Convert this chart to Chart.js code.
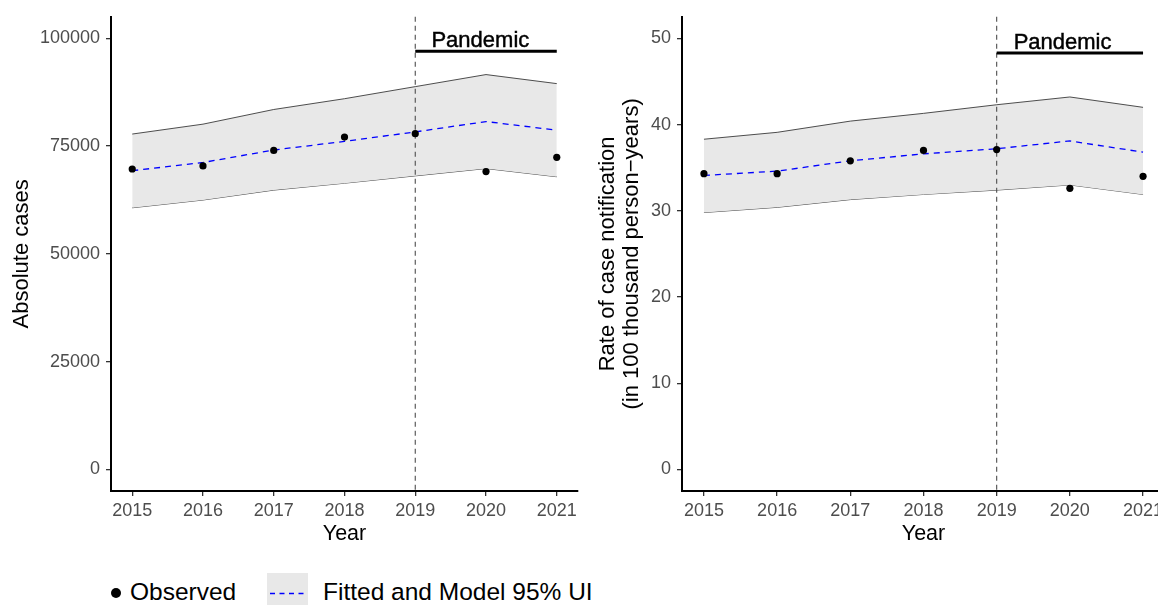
<!DOCTYPE html>
<html>
<head>
<meta charset="utf-8">
<script src="https://cdn.jsdelivr.net/npm/chart.js@4"></script>
<style>
  html, body { margin:0; padding:0; background:#fff; width:1158px; height:605px; overflow:hidden; position:relative; font-family:"Liberation Sans", Arial, Helvetica, sans-serif; }
  #w1 { position:absolute; left:0; top:0; width:582px; height:560px; }
  #w2 { position:absolute; left:580px; top:0; width:589px; height:560px; }
  .dot { position:absolute; left:111px; top:588px; width:10px; height:10px; border-radius:50%; background:#000; }
  .lab { position:absolute; top:578px; white-space:nowrap; font-size:24.5px; line-height:28px; color:#000; }
  .key { position:absolute; left:267px; top:573px; width:41px; height:40px; background:#e8e8e8; }
  .key svg { position:absolute; left:0; top:0; }
</style>
</head>
<body>
<div id="w1"><canvas id="c1"></canvas></div>
<div id="w2"><canvas id="c2"></canvas></div>
<div class="dot"></div>
<div class="lab" style="left:130px;">Observed</div>
<div class="key"><svg width="41" height="40"><line x1="3" y1="20.5" x2="39" y2="20.5" stroke="#0000ff" stroke-width="1.3" stroke-dasharray="5,4.5"/></svg></div>
<div class="lab" style="left:323px;">Fitted and Model 95% UI</div>
<script>
// ---- data ----
const years = [2015, 2016, 2017, 2018, 2019, 2020, 2021];

const absObserved = [69700, 70400, 74000, 77100, 77900, 69100, 72400];
const absFitted   = [69300, 71200, 74100, 76100, 78300, 80700, 78700];
const absLower    = [60700, 62500, 64800, 66400, 68100, 69800, 67900];
const absUpper    = [77800, 80100, 83500, 86000, 88800, 91600, 89500];
const absTicks    = [0, 25000, 50000, 75000, 100000];

const rateObserved = [34.3, 34.3, 35.8, 37.0, 37.1, 32.6, 34.0];
const rateFitted   = [34.1, 34.6, 35.8, 36.6, 37.2, 38.1, 36.8];
const rateLower    = [29.8, 30.4, 31.3, 31.9, 32.4, 33.0, 31.9];
const rateUpper    = [38.3, 39.1, 40.4, 41.3, 42.3, 43.2, 42.0];
const rateTicks    = [0, 10, 20, 30, 40, 50];

const pandemicStart = 2019;
const pandemicEnd = 2021;
const pandemicLabel = "Pandemic";
const absPandemic = { lineY: 97000, textX: 2019.92, textY: 99500 };
const ratePandemic = { lineY: 48.3, textX: 2019.9, textY: 49.5 };

const FONT = "'Liberation Sans', Arial, Helvetica, sans-serif";

function pts(ys) { return years.map((x, i) => ({ x: x, y: ys[i] })); }

const annotPlugin = {
  id: 'annot',
  afterDatasetDraw(chart, args, opts) {
    if (args.index !== 2) return;
    const { ctx, chartArea } = chart;
    const xs = chart.scales.x;
    const xv = xs.getPixelForValue(pandemicStart);
    ctx.save();
    ctx.strokeStyle = '#4d4d4d';
    ctx.lineWidth = 1.1;
    ctx.setLineDash([5, 4]);
    ctx.beginPath();
    ctx.moveTo(xv, chartArea.top);
    ctx.lineTo(xv, chartArea.bottom);
    ctx.stroke();
    ctx.restore();
  },
  afterDatasetsDraw(chart, args, opts) {
    const { ctx } = chart;
    const xs = chart.scales.x, ysc = chart.scales.y;
    const p = opts.p;
    ctx.save();
    ctx.strokeStyle = '#000';
    ctx.lineWidth = 3;
    ctx.setLineDash([]);
    ctx.beginPath();
    const yl = ysc.getPixelForValue(p.lineY);
    ctx.moveTo(xs.getPixelForValue(pandemicStart), yl);
    ctx.lineTo(xs.getPixelForValue(pandemicEnd), yl);
    ctx.stroke();
    ctx.fillStyle = '#000';
    ctx.font = "22px " + FONT;
    ctx.textAlign = 'center';
    ctx.textBaseline = 'middle';
    const tx = xs.getPixelForValue(p.textX), ty = ysc.getPixelForValue(p.textY);
    ctx.fillText(pandemicLabel, tx, ty);
    ctx.lineWidth = 0.45;
    ctx.strokeText(pandemicLabel, tx, ty);
    ctx.restore();
  }
};

function makeChart(id, obs, fit, lo, up, ticks, yMin, yMax, yTitle, yWidth, titlePad, pand, padRight) {
  return new Chart(document.getElementById(id), {
    type: 'line',
    data: {
      datasets: [
        { data: pts(obs), showLine: false, pointRadius: 3.6, pointBackgroundColor: '#000', pointBorderWidth: 0, borderColor: '#000' },
        { data: pts(fit), borderColor: '#0000ff', borderWidth: 1.3, borderDash: [6, 5], pointRadius: 0, fill: false, tension: 0 },
        { data: pts(up), borderColor: '#3a3a3a', borderWidth: 0.9, pointRadius: 0, fill: '+1', backgroundColor: '#e8e8e8', tension: 0 },
        { data: pts(lo), borderColor: '#3a3a3a', borderWidth: 0.9, pointRadius: 0, fill: false, tension: 0 }
      ]
    },
    options: {
      responsive: true,
      maintainAspectRatio: false,
      animation: false,
      events: [],
      layout: { padding: { top: 15, right: padRight, left: 0, bottom: 0 } },
      plugins: { legend: { display: false }, tooltip: { enabled: false }, annot: { p: pand } },
      scales: {
        x: {
          type: 'linear', min: 2014.7, max: 2021.3,
          afterBuildTicks: (s) => { s.ticks = years.map(v => ({ value: v })); },
          afterFit: (s) => { s.height = 69; },
          ticks: { color: '#4d4d4d', font: { size: 18, family: FONT }, padding: 4, maxRotation: 0, autoSkip: false, callback: (v) => String(v) },
          grid: { display: true, drawOnChartArea: false, drawTicks: true, tickLength: 5, color: '#333', lineWidth: 1.3 },
          border: { display: true, color: '#000', width: 2 },
          title: { display: true, text: 'Year', color: '#000', font: { size: 21.5, family: FONT, lineHeight: 1.2 }, padding: { top: 0, bottom: 13 } }
        },
        y: {
          type: 'linear', min: yMin, max: yMax,
          afterBuildTicks: (s) => { s.ticks = ticks.map(v => ({ value: v })); },
          afterFit: (s) => { s.width = yWidth; },
          ticks: { color: '#4d4d4d', font: { size: 18, family: FONT }, padding: 6, callback: (v) => String(v) },
          grid: { display: true, drawOnChartArea: false, drawTicks: true, tickLength: 5, color: '#333', lineWidth: 1.3 },
          border: { display: true, color: '#000', width: 2 },
          title: { display: true, text: yTitle, color: '#000', font: { size: 22, family: FONT, lineHeight: 1.09 }, padding: { top: titlePad, bottom: 0 } }
        }
      }
    },
    plugins: [annotPlugin]
  });
}

makeChart('c1', absObserved, absFitted, absLower, absUpper, absTicks, -5000, 105000, 'Absolute cases', 111, 10, absPandemic, 2);
makeChart('c2', rateObserved, rateFitted, rateLower, rateUpper, rateTicks, -2.5, 52.5,
  ['Rate of case notification', '(in 100 thousand person\u2212years)'], 102, 16, ratePandemic, 1);
</script>
</body>
</html>
